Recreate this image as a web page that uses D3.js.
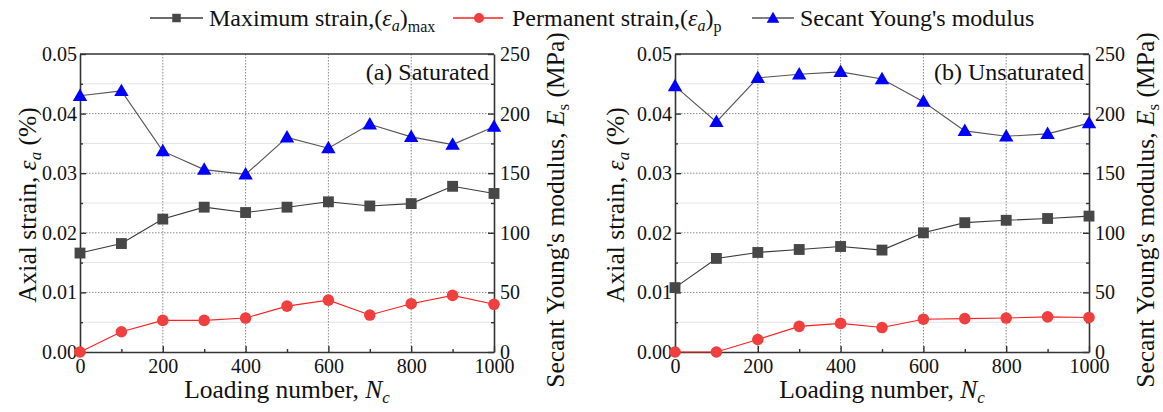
<!DOCTYPE html>
<html>
<head>
<meta charset="utf-8">
<script src="https://cdn.jsdelivr.net/npm/d3@7"></script>
<style>
  html, body { margin: 0; padding: 0; background: #fff; }
</style>
</head>
<body>
<svg id="chart" width="1163" height="412"></svg>
<script>
// ---------- data ----------
const loadingNumbers = [0, 100, 200, 300, 400, 500, 600, 700, 800, 900, 1000];

const satMaxStrain  = [0.0166, 0.0182, 0.0223, 0.0243, 0.0234, 0.0243, 0.0252, 0.0245, 0.0249, 0.0278, 0.0266];
const satPermStrain = [0.0000, 0.0034, 0.0053, 0.0053, 0.0057, 0.0077, 0.0087, 0.0062, 0.0081, 0.0095, 0.0080];
const satModulus    = [215, 219, 168.5, 153, 149, 180, 171, 191, 180.5, 174, 189];

const unsatMaxStrain  = [0.0108, 0.0157, 0.0167, 0.0172, 0.0177, 0.0171, 0.0200, 0.0217, 0.0221, 0.0224, 0.0228];
const unsatPermStrain = [0.0000, 0.0000, 0.0021, 0.0043, 0.0048, 0.0041, 0.0055, 0.0056, 0.0057, 0.0059, 0.0058];
const unsatModulus    = [223, 193, 230, 233, 235, 229, 210, 185.5, 181, 183, 192];

const strainTicks = [0, 0.01, 0.02, 0.03, 0.04, 0.05];
const strainMinorTicks = [0.005, 0.015, 0.025, 0.035, 0.045];
const modulusTicks = [0, 50, 100, 150, 200, 250];
const modulusMinorTicks = [25, 75, 125, 175, 225];
const loadingTicks = [0, 200, 400, 600, 800, 1000];
const loadingMinorTicks = [100, 300, 500, 700, 900];

const panelLabels = ["(a) Saturated", "(b) Unsaturated"];

// ---------- style ----------
const FONT = '"Liberation Serif", "Times New Roman", Times, serif';
const C_MAX = "#474747", C_MAX_LINE = "#3a3a3a";
const C_PERM = "#ef3f3f", C_PERM_LINE = "#ff2020";
const C_MOD = "#0000ff", C_MOD_LINE = "#555555";
const AXIS = "#333333";
const TICK_FS = 20, TITLE_FS = 25.5, TITLE_SUB_FS = 17, LEG_FS = 24, SUB_FS = 16;

const svg = d3.select("#chart").style("font-family", FONT);

const panels = [
  { x0: 80,  x1: 494, max: satMaxStrain, perm: satPermStrain, mod: satModulus, label: panelLabels[0],
    leftTitleX: 27, rightTitleX: 555 },
  { x0: 675, x1: 1089, max: unsatMaxStrain, perm: unsatPermStrain, mod: unsatModulus, label: panelLabels[1],
    leftTitleX: 615, rightTitleX: 1145 }
];
const yTop = 54, yBot = 352;

function drawPanel(p) {
  const x = d3.scaleLinear().domain([0, 1000]).range([p.x0, p.x1]);
  const y = d3.scaleLinear().domain([0, 0.05]).range([yBot, yTop]);
  const y2 = d3.scaleLinear().domain([0, 250]).range([yBot, yTop]);
  const g = svg.append("g").style("font-family", FONT);

  g.selectAll("line.minorgrid").data(strainMinorTicks).enter().append("line")
    .attr("x1", p.x0).attr("x2", p.x1)
    .attr("y1", d => y(d)).attr("y2", d => y(d))
    .attr("stroke", "#e4e4e4").attr("stroke-width", 1);
  g.selectAll("line.hgrid").data(strainTicks.slice(1, -1)).enter().append("line")
    .attr("x1", p.x0).attr("x2", p.x1)
    .attr("y1", d => y(d)).attr("y2", d => y(d))
    .attr("stroke", "#8a8a8a").attr("stroke-width", 1).attr("stroke-dasharray", "1.5,1.5");
  g.selectAll("line.vgrid").data(loadingTicks.slice(1, -1)).enter().append("line")
    .attr("y1", yTop).attr("y2", yBot)
    .attr("x1", d => x(d)).attr("x2", d => x(d))
    .attr("stroke", "#8a8a8a").attr("stroke-width", 1).attr("stroke-dasharray", "1.5,1.5");

  const styleAxis = sel => {
    sel.attr("font-family", null).style("font-family", FONT);
    sel.selectAll("path.domain").attr("stroke", AXIS).attr("stroke-width", 1.6);
    sel.selectAll(".tick line").attr("stroke", AXIS).attr("stroke-width", 1.4);
    sel.selectAll("text").style("font-family", FONT).attr("font-size", TICK_FS).attr("fill", "#111");
  };
  g.append("g").attr("transform", `translate(${p.x0},0)`)
    .call(d3.axisLeft(y).tickValues(strainTicks).tickFormat(d3.format(".2f")).tickSize(-6).tickSizeOuter(0).tickPadding(3))
    .call(styleAxis);
  g.append("g").attr("transform", `translate(${p.x0},0)`)
    .call(d3.axisLeft(y).tickValues(strainMinorTicks).tickFormat("").tickSize(-3).tickSizeOuter(0))
    .call(styleAxis).select("path.domain").remove();
  g.append("g").attr("transform", `translate(${p.x1},0)`)
    .call(d3.axisRight(y2).tickValues(modulusTicks).tickFormat(d3.format("d")).tickSize(-6).tickSizeOuter(0).tickPadding(6))
    .call(styleAxis);
  g.append("g").attr("transform", `translate(${p.x1},0)`)
    .call(d3.axisRight(y2).tickValues(modulusMinorTicks).tickFormat("").tickSize(-3).tickSizeOuter(0))
    .call(styleAxis).select("path.domain").remove();
  g.append("g").attr("transform", `translate(0,${yBot})`)
    .call(d3.axisBottom(x).tickValues(loadingTicks).tickFormat(d3.format("d")).tickSize(-6).tickSizeOuter(0).tickPadding(7))
    .call(styleAxis);
  g.append("g").attr("transform", `translate(0,${yBot})`)
    .call(d3.axisBottom(x).tickValues(loadingMinorTicks).tickFormat("").tickSize(-3).tickSizeOuter(0))
    .call(styleAxis).select("path.domain").remove();
  g.append("line").attr("x1", p.x0).attr("x2", p.x1).attr("y1", yTop).attr("y2", yTop)
    .attr("stroke", AXIS).attr("stroke-width", 1.6);

  g.append("text").attr("x", p.x1 - 5).attr("y", 80).attr("text-anchor", "end")
    .style("font-family", FONT).attr("font-size", 24).attr("fill", "#111").text(p.label);

  const pts = (vals) => loadingNumbers.map((n, i) => [n, vals[i]]);
  const lineS = d3.line().x(d => x(d[0])).y(d => y(d[1]));
  const lineM = d3.line().x(d => x(d[0])).y(d => y2(d[1]));

  g.append("path").attr("d", lineS(pts(p.max))).attr("fill", "none").attr("stroke", C_MAX_LINE).attr("stroke-width", 1.1);
  g.selectAll("path.sq").data(pts(p.max)).enter().append("path")
    .attr("d", d3.symbol(d3.symbolSquare, 118)())
    .attr("transform", d => `translate(${x(d[0])},${y(d[1])})`).attr("fill", C_MAX);

  g.append("path").attr("d", lineS(pts(p.perm))).attr("fill", "none").attr("stroke", C_PERM_LINE).attr("stroke-width", 1.1);
  g.selectAll("circle.pm").data(pts(p.perm)).enter().append("circle")
    .attr("cx", d => x(d[0])).attr("cy", d => y(d[1])).attr("r", 5.8).attr("fill", C_PERM);

  g.append("path").attr("d", lineM(pts(p.mod))).attr("fill", "none").attr("stroke", C_MOD_LINE).attr("stroke-width", 1.1);
  g.selectAll("path.tri").data(pts(p.mod)).enter().append("path")
    .attr("d", d3.symbol(d3.symbolTriangle, 90)())
    .attr("transform", d => `translate(${x(d[0])},${y2(d[1]) + 1})`).attr("fill", C_MOD);

  const midY = (yTop + yBot) / 2;
  const lt = g.append("text").attr("transform", `translate(${p.leftTitleX},${midY + 2}) rotate(-90)`)
    .attr("text-anchor", "middle").attr("dy", "0.35em").style("font-family", FONT).attr("font-size", TITLE_FS).attr("fill", "#111");
  lt.append("tspan").text("Axial strain, ");
  lt.append("tspan").attr("font-style", "italic").text("ε");
  lt.append("tspan").attr("font-style", "italic").attr("font-size", TITLE_SUB_FS).attr("dy", 5).text("a");
  lt.append("tspan").attr("dy", -5).text(" (%)");

  const rt = g.append("text").attr("transform", `translate(${p.rightTitleX},${midY + 7}) rotate(-90)`)
    .attr("text-anchor", "middle").attr("dy", "0.35em").style("font-family", FONT).attr("font-size", TITLE_FS).attr("fill", "#111");
  rt.append("tspan").text("Secant Young's modulus, ");
  rt.append("tspan").attr("font-style", "italic").text("E");
  rt.append("tspan").attr("font-size", TITLE_SUB_FS).attr("dy", 5).text("s");
  rt.append("tspan").attr("dy", -5).text(" (MPa)");

  const bt = g.append("text").attr("x", (p.x0 + p.x1) / 2).attr("y", 398)
    .attr("text-anchor", "middle").style("font-family", FONT).attr("font-size", TITLE_FS).attr("fill", "#111");
  bt.append("tspan").text("Loading number, ");
  bt.append("tspan").attr("font-style", "italic").text("N");
  bt.append("tspan").attr("font-style", "italic").attr("font-size", TITLE_SUB_FS).attr("dy", 5).text("c");
}

panels.forEach(drawPanel);

// ---------- legend ----------
const leg = svg.append("g").style("font-family", FONT).attr("font-size", LEG_FS).attr("fill", "#111");
const legY = 18;
function legLine(x1, x2, color) {
  leg.append("line").attr("x1", x1).attr("x2", x2).attr("y1", legY).attr("y2", legY)
    .attr("stroke", color).attr("stroke-width", 1.3);
}
function legText(xPos) {
  return leg.append("text").attr("x", xPos).attr("y", legY + 8).style("font-family", FONT);
}
legLine(150, 203, C_MAX_LINE);
leg.append("path").attr("d", d3.symbol(d3.symbolSquare, 72)()).attr("transform", `translate(176.5,${legY})`).attr("fill", C_MAX);
let t = legText(209);
t.append("tspan").text("Maximum strain,(");
t.append("tspan").attr("font-style", "italic").text("ε");
t.append("tspan").attr("font-style", "italic").attr("font-size", SUB_FS).attr("dy", 5).text("a");
t.append("tspan").attr("dy", -5).text(")");
t.append("tspan").attr("font-size", SUB_FS).attr("dy", 6).text("max");

legLine(453, 503, C_PERM_LINE);
leg.append("circle").attr("cx", 479).attr("cy", legY).attr("r", 5).attr("fill", C_PERM);
t = legText(512);
t.append("tspan").text("Permanent strain,(");
t.append("tspan").attr("font-style", "italic").text("ε");
t.append("tspan").attr("font-style", "italic").attr("font-size", SUB_FS).attr("dy", 5).text("a");
t.append("tspan").attr("dy", -5).text(")");
t.append("tspan").attr("font-size", SUB_FS).attr("dy", 6).text("p");

legLine(752, 794, C_MOD_LINE);
leg.append("path").attr("d", d3.symbol(d3.symbolTriangle, 70)()).attr("transform", `translate(773,${legY + 1})`).attr("fill", C_MOD);
legText(800).text("Secant Young's modulus");
</script>
</body>
</html>
